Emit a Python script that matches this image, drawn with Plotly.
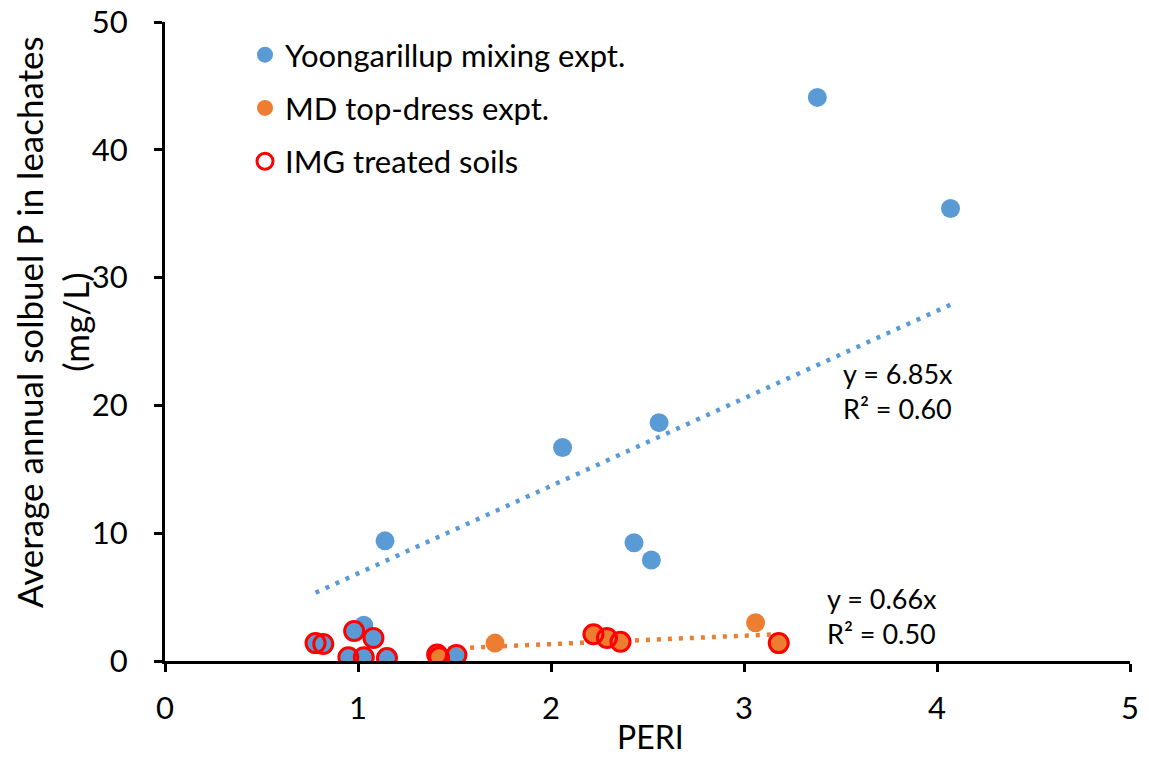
import numpy as np
import plotly.graph_objects as go

# ---- data ----
yoon_x = [3.38, 4.07, 2.56, 2.06, 1.14, 2.43, 2.52, 1.03, 0.78, 0.82, 0.98, 1.08, 0.95, 1.03, 1.15, 1.51]
yoon_y = [44.1, 35.4, 18.65, 16.7, 9.4, 9.25, 7.9, 2.8, 1.4, 1.33, 2.35, 1.8, 0.3, 0.3, 0.23, 0.47]

md_x = [1.41, 1.42, 1.71, 2.22, 2.29, 2.36, 3.06, 3.18]
md_y = [0.5, 0.3, 1.4, 2.1, 1.8, 1.5, 3.0, 1.4]

img_x = [0.78, 0.82, 0.98, 1.08, 0.95, 1.03, 1.15, 1.51, 1.41, 1.42, 2.22, 2.29, 2.36, 3.18]
img_y = [1.4, 1.33, 2.35, 1.8, 0.3, 0.3, 0.23, 0.47, 0.5, 0.3, 2.1, 1.8, 1.5, 1.4]

yoon_slope = 6.85
yoon_r2 = 0.60
md_slope = 0.66
md_r2 = 0.50

x_ticks = [0, 1, 2, 3, 4, 5]
y_ticks = [0, 10, 20, 30, 40, 50]

BLUE = "#5B9BD5"
ORANGE = "#ED7D31"
RED = "#FF0000"
FONT = "Lato"

fig = go.Figure()

fig.add_trace(go.Scatter(x=yoon_x, y=yoon_y, mode="markers", name="Yoongarillup mixing expt.",
                         marker=dict(size=19, color=BLUE), legendgroup="a"))
fig.add_trace(go.Scatter(x=md_x, y=md_y, mode="markers", name="MD top-dress expt.",
                         marker=dict(size=19, color=ORANGE), legendgroup="b"))

# trendlines through origin (fitted slopes shown on chart)
yx = np.array([min(yoon_x), max(yoon_x)])
fig.add_trace(go.Scatter(x=yx, y=yoon_slope * yx, mode="lines", showlegend=False,
                         line=dict(color=BLUE, width=4.5, dash="4px,7px"), hoverinfo="skip"))
mx = np.array([min(md_x), max(md_x)])
fig.add_trace(go.Scatter(x=mx, y=md_slope * mx, mode="lines", showlegend=False,
                         line=dict(color=ORANGE, width=4.5, dash="4px,7px"), hoverinfo="skip"))

fig.add_trace(go.Scatter(x=img_x, y=img_y, mode="markers", name="IMG treated soils",
                         marker=dict(size=19, color="rgba(0,0,0,0)", line=dict(color=RED, width=3)),
                         legendgroup="c"))

# plot area geometry
L, R, T, B = 165, 19, 22, 97
W, H = 1149, 758
pw, ph = W - L - R, H - T - B

def px(xpix):
    return (xpix - L) / pw

def py(ypix):
    return (H - B - ypix) / ph

fig.add_annotation(text=f"y = {yoon_slope:.2f}x<br>R² = {yoon_r2:.2f}", xref="paper", yref="paper",
                   x=px(955), y=py(391), xanchor="right", yanchor="middle", showarrow=False,
                   align="left", font=dict(family=FONT, size=27, color="black"))
fig.add_annotation(text=f"y = {md_slope:.2f}x<br>R² = {md_r2:.2f}", xref="paper", yref="paper",
                   x=px(939), y=py(616), xanchor="right", yanchor="middle", showarrow=False,
                   align="left", font=dict(family=FONT, size=27, color="black"))

# axis titles
fig.add_annotation(text="Average annual solbuel P in leachates<br>(mg/L)", xref="paper", yref="paper",
                   x=px(52), y=py(322), xanchor="center", yanchor="middle", showarrow=False,
                   textangle=-90, font=dict(family=FONT, size=35, color="black"))
fig.add_annotation(text="PERI", xref="paper", yref="paper",
                   x=px(650), y=py(736), xanchor="center", yanchor="middle", showarrow=False,
                   font=dict(family=FONT, size=32, color="black"))

axis_common = dict(showline=True, linewidth=3, linecolor="black", ticks="outside", ticklen=8,
                   tickwidth=3, tickcolor="black", showgrid=False, zeroline=False,
                   tickfont=dict(family=FONT, size=31, color="black"))

fig.update_layout(
    width=W, height=H,
    margin=dict(l=L, r=R, t=T, b=B, autoexpand=False),
    paper_bgcolor="white", plot_bgcolor="white",
    font=dict(family=FONT, size=31, color="black"),
    xaxis=dict(range=[0, 5], tickvals=x_ticks, ticklabelstandoff=10, **axis_common),
    yaxis=dict(range=[0, 50], tickvals=y_ticks, ticklabelstandoff=20, **axis_common),
    legend=dict(x=px(245), y=py(28), xanchor="left", yanchor="top", bgcolor="rgba(0,0,0,0)",
                font=dict(family=FONT, size=31, color="black"), traceorder="grouped",
                tracegroupgap=10, itemclick=False),
    showlegend=True,
)

fig.write_html("out.html")
